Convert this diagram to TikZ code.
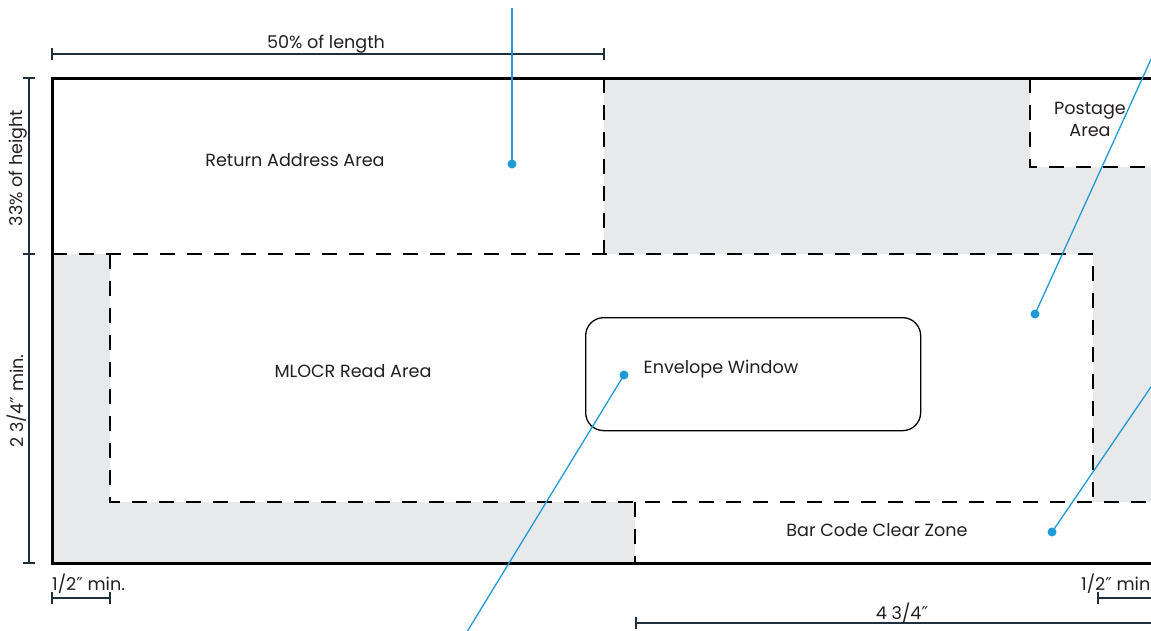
\documentclass[tikz,border=0pt]{standalone}
\usepackage{fontspec}
\setmainfont{Poppins}
\newfontfamily\dv{DejaVu Sans}
\definecolor{zone}{HTML}{E8E9EB}
\definecolor{lead}{HTML}{1E9BD7}
\definecolor{ink}{HTML}{231F20}
\definecolor{dimc}{HTML}{1F2F3D}
\newcommand{\inch}{{\dv ″}}
\begin{document}
\begin{tikzpicture}[x=1pt,y=-1pt,
 lbl/.style={font=\fontsize{17.6}{22}\selectfont, text=ink, inner sep=0pt},
 dashln/.style={draw=black, line width=1.7pt, dash pattern=on 15pt off 12pt},
 dimln/.style={draw=dimc, line width=1.3pt},
 leader/.style={draw=lead, line width=1.3pt},
 dotc/.style={fill=lead}]
\useasboundingbox (0,0) rectangle (1151,630);
\clip (0,0) rectangle (1151,630);
% grey zones
\fill[zone] (604,78) -- (1030,78) -- (1030,167) -- (1200,167) -- (1200,502) -- (1093,502) -- (1093,254) -- (604,254) -- cycle;
\fill[zone] (52,254) rectangle (110,563);
\fill[zone] (110,502) rectangle (635,563);
% dashed boundaries
\draw[dashln] (604,78) -- (604,254);
\draw[dashln] (52,254) -- (1093,254) -- (1093,502);
\draw[dashln] (110,254) -- (110,502) -- (1200,502);
\draw[dashln] (635,502) -- (635,563);
\draw[dashln] (1030,78) -- (1030,167) -- (1200,167);
% envelope outline
\draw[line width=3pt] (52,78) rectangle (1210,563);
% window
\node[draw=black, line width=1.3pt, rounded corners=18pt, minimum width=335pt, minimum height=113pt, inner sep=0pt, anchor=north west] (win) at (585,317) {};
% area labels
\node[lbl] (ret) at (295,160) {Return Address Area};
\node[lbl] (ocr) at (353,371) {MLOCR Read Area};
\node[lbl] (wtx) at (721,369) {Envelope Window};
\node[lbl, align=center] (post) at (1090,119) {Postage\\Area};
\node[lbl] (bar) at (877,530) {Bar Code Clear Zone};
% top dimension
\node[lbl] (d50) at (326,44) {50\% of length};
\coordinate (d50a) at (52,54); \coordinate (d50b) at (604,54);
\draw[dimln] (d50a) -- (d50b);
\draw[dimln] ([yshift=-6pt]d50a) -- ([yshift=6pt]d50a);
\draw[dimln] ([yshift=-6pt]d50b) -- ([yshift=6pt]d50b);
% left dimension
\coordinate (va) at (29,78); \coordinate (vb) at (29,254); \coordinate (vc) at (29,563);
\draw[dimln] (va) -- (vc);
\foreach \c in {va,vb,vc} \draw[dimln] ([xshift=-6pt]\c) -- ([xshift=6pt]\c);
\node[lbl, rotate=90] (h33) at (18,168) {33\% of height};
\node[lbl, rotate=90] (h234) at (17,401) {2 3/4\inch\ min.};
% bottom-left dimension
\node[lbl, anchor=west] (hl) at (52,584) {1/2\inch\ min.};
\coordinate (bla) at (52,598); \coordinate (blb) at (110,598);
\draw[dimln] (bla) -- (blb);
\draw[dimln] ([yshift=-6pt]bla) -- ([yshift=6pt]bla);
\draw[dimln] ([yshift=-6pt]blb) -- ([yshift=6pt]blb);
% bottom-right dimension
\node[lbl, anchor=west] (hr) at (1081,584) {1/2\inch\ min.};
\coordinate (bra) at (1098,598); \coordinate (brb) at (1200,598);
\draw[dimln] (bra) -- (brb);
\draw[dimln] ([yshift=-6pt]bra) -- ([yshift=6pt]bra);
% 4 3/4 dimension
\node[lbl] (d434) at (902,613) {4 3/4\inch};
\coordinate (fa) at (636,623); \coordinate (fb) at (1200,623);
\draw[dimln] (fa) -- (fb);
\draw[dimln] ([yshift=-6pt]fa) -- ([yshift=6pt]fa);
% leaders
\coordinate (e1) at (512,8);    \coordinate (p1) at (512,164);
\coordinate (e2) at (1178,0);   \coordinate (p2) at (1035,314);
\coordinate (e3) at (1200,315); \coordinate (p3) at (1052,532);
\coordinate (e4) at (462,640);  \coordinate (p4) at (624,375);
\foreach \e/\p in {e1/p1,e2/p2,e3/p3,e4/p4} {
  \draw[leader] (\e) -- (\p);
  \fill[dotc] (\p) circle (4.5pt);
}
\end{tikzpicture}
\end{document}
